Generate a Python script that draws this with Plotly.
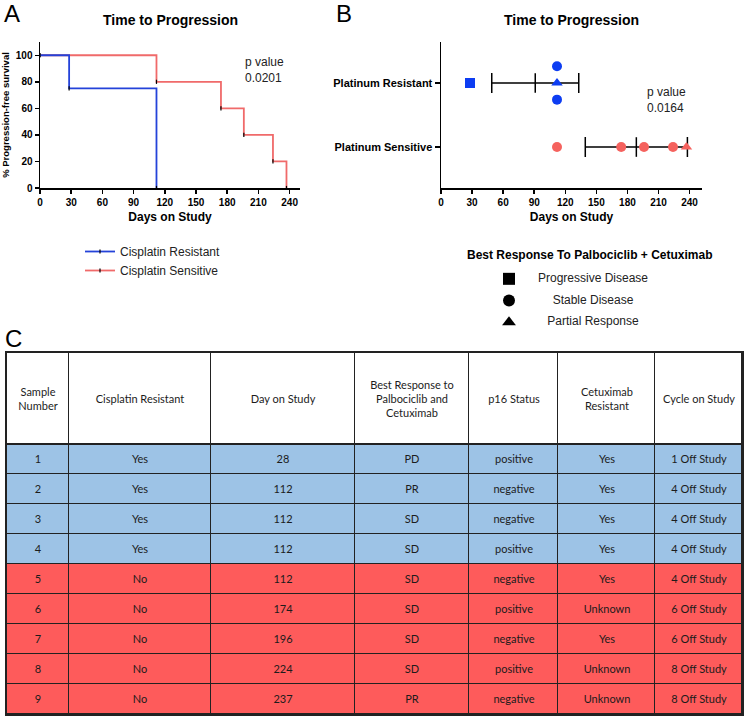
import plotly.graph_objects as go

W, H = 747, 716

# ---------------- data ----------------
km_resistant_days = [0, 28, 112]
km_resistant_pct = [100, 75, 0]
km_sensitive_days = [0, 112, 174, 196, 224, 237]
km_sensitive_pct = [100, 80, 60, 40, 20, 0]

groups_b = ["Platinum Resistant", "Platinum Sensitive"]
error_mean = [91, 188.6]
error_sd = [42, 49.3]

sample_number = ["1", "2", "3", "4", "5", "6", "7", "8", "9"]
cisplatin_resistant = ["Yes", "Yes", "Yes", "Yes", "No", "No", "No", "No", "No"]
day_on_study = [28, 112, 112, 112, 112, 174, 196, 224, 237]
best_response = ["PD", "PR", "SD", "SD", "SD", "SD", "SD", "SD", "PR"]
p16_status = ["positive", "negative", "negative", "positive", "negative",
              "positive", "negative", "positive", "negative"]
cetuximab_resistant = ["Yes", "Yes", "Yes", "Yes", "Yes", "Unknown", "Yes",
                       "Unknown", "Unknown"]
cycle_on_study = ["1 Off Study", "4 Off Study", "4 Off Study", "4 Off Study",
                  "4 Off Study", "6 Off Study", "6 Off Study", "8 Off Study",
                  "8 Off Study"]

table_headers = ["Sample<br>Number", "Cisplatin Resistant", "Day on Study",
                 "Best Response to<br>Palbociclib and<br>Cetuximab",
                 "p16 Status", "Cetuximab<br>Resistant", "Cycle on Study"]

response_names = ["Progressive Disease", "Stable Disease", "Partial Response"]
response_codes = ["PD", "SD", "PR"]

# ---------------- styles ----------------
FONT = "Liberation Sans, Arial, sans-serif"
TFONT = "Lato, Open Sans, sans-serif"
BLUE_KM = "#2443d9"
RED_KM = "#f06a6a"
BLUE_PT = "#0d3df2"
RED_PT = "#f5625e"
ROW_BLUE = "#9dc3e6"
ROW_RED = "#fe5b5b"
symbol_map = {"PD": "square", "SD": "circle", "PR": "triangle-up"}


def px_x(a, b):
    return [a / W, b / W]


def px_y(top, bottom):
    return [1 - bottom / H, 1 - top / H]


fig = go.Figure()

# ---------------- Panel A: Kaplan-Meier ----------------
tick_marker = dict(symbol="line-ns", size=3, color="black",
                   line=dict(width=1.2, color="black"))
fig.add_trace(go.Scatter(
    x=km_sensitive_days, y=km_sensitive_pct, mode="lines+markers",
    line=dict(color=RED_KM, width=1.8, shape="hv"), marker=tick_marker,
    name="Cisplatin Sensitive", legendrank=2, xaxis="x", yaxis="y",
    hoverinfo="skip"))
fig.add_trace(go.Scatter(
    x=km_resistant_days, y=km_resistant_pct, mode="lines+markers",
    line=dict(color=BLUE_KM, width=1.8, shape="hv"), marker=tick_marker,
    name="Cisplatin Resistant", legendrank=1, xaxis="x", yaxis="y",
    hoverinfo="skip"))

# ---------------- Panel B: scatter with mean +/- SD ----------------
group_y = {g: len(groups_b) - 1 - i for i, g in enumerate(groups_b)}
fig.add_trace(go.Scatter(
    x=error_mean, y=[group_y[g] for g in groups_b], mode="markers",
    marker=dict(symbol="line-ns", size=14, color="black",
                line=dict(width=1.5, color="black")),
    error_x=dict(type="data", array=error_sd, color="black", thickness=1.5,
                 width=10),
    showlegend=False, xaxis="x2", yaxis="y2", hoverinfo="skip"))

JITTER = 0.26
for g, flag, col in [(groups_b[0], "Yes", BLUE_PT), (groups_b[1], "No", RED_PT)]:
    xs, ys, syms = [], [], []
    seen = {}
    for d, r, c in zip(day_on_study, best_response, cisplatin_resistant):
        if c != flag:
            continue
        k = seen.get(d, 0)
        seen[d] = k + 1
        off = [0, JITTER, -JITTER][k % 3]
        xs.append(d)
        ys.append(group_y[g] + off)
        syms.append(symbol_map[r])
    fig.add_trace(go.Scatter(
        x=xs, y=ys, mode="markers",
        marker=dict(symbol=syms, size=10, color=col, line=dict(width=0)),
        showlegend=False, xaxis="x2", yaxis="y2", hoverinfo="skip"))

# ---------------- Panel B legend (hidden axes) ----------------
fig.add_trace(go.Scatter(
    x=[0] * 3, y=list(range(3)), mode="markers",
    marker=dict(symbol=[symbol_map[c] for c in response_codes], size=12,
                color="black"),
    cliponaxis=False,
    showlegend=False, xaxis="x4", yaxis="y4", hoverinfo="skip"))
fig.add_trace(go.Scatter(
    x=[84] * 3, y=list(range(3)), mode="text", text=response_names,
    textposition="middle center", cliponaxis=False,
    textfont=dict(family=FONT, size=12, color="#222"),
    showlegend=False, xaxis="x4", yaxis="y4", hoverinfo="skip"))

# ---------------- Panel C: table as heatmap ----------------
col_widths = [62, 142, 144, 114, 89, 97, 87]
x_edges = [0]
for w in col_widths:
    x_edges.append(x_edges[-1] + w)
header_h, row_h = 91, 30
y_edges = [0, header_h]
for _ in sample_number:
    y_edges.append(y_edges[-1] + row_h)

columns = [sample_number, cisplatin_resistant, [str(d) for d in day_on_study],
           best_response, p16_status, cetuximab_resistant, cycle_on_study]
z = [[0] * len(columns)]
text = [table_headers]
for i in range(len(sample_number)):
    z.append([1 if cisplatin_resistant[i] == "Yes" else 2] * len(columns))
    text.append([col[i] for col in columns])

fig.add_trace(go.Heatmap(
    x=x_edges, y=y_edges, z=z, text=text, texttemplate="%{text}",
    textfont=dict(family=TFONT, size=11, color="#1c1c1c"),
    colorscale=[[0, "white"], [0.5, ROW_BLUE], [1, ROW_RED]],
    zmin=0, zmax=2, showscale=False, xgap=1, ygap=1,
    xaxis="x3", yaxis="y3", hoverinfo="skip"))

# ---------------- layout ----------------
axis_common = dict(showline=True, linecolor="black", linewidth=1.5,
                   ticks="outside", ticklen=4, tickwidth=1.5, tickcolor="black",
                   showgrid=False, zeroline=False, automargin=False,
                   tickfont=dict(family=FONT, size=10, color="black",
                                 weight="bold"))
x_ticks = list(range(0, 241, 30))

fig.update_layout(
    width=W, height=H,
    margin=dict(l=0, r=0, t=0, b=0, pad=0, autoexpand=False),
    paper_bgcolor="white", plot_bgcolor="white",
    font=dict(family=FONT, color="black"),
    xaxis=dict(domain=px_x(40, 300), range=[0, 250], tickvals=x_ticks,
               anchor="y",
               title=dict(text="Days on Study", standoff=6,
                          font=dict(family=FONT, size=12, weight="bold")),
               **axis_common),
    yaxis=dict(domain=px_y(42, 188), range=[0, 110],
               tickvals=[0, 20, 40, 60, 80, 100], anchor="x",
               title=dict(text="% Progression-free survival", standoff=4,
                          font=dict(family=FONT, size=9.5, weight="bold")),
               **axis_common),
    xaxis2=dict(domain=px_x(441, 702), range=[0, 252], tickvals=x_ticks,
                anchor="y2",
                title=dict(text="Days on Study", standoff=6,
                           font=dict(family=FONT, size=12, weight="bold")),
                **axis_common),
    yaxis2=dict(domain=px_y(42, 188), range=[-0.64, 1.64],
                tickvals=[group_y[g] for g in groups_b], ticktext=groups_b,
                anchor="x2",
                **{**axis_common, "ticklen": 5,
                   "tickfont": dict(family=FONT, size=11, color="black",
                                    weight="bold")}),
    xaxis3=dict(domain=px_x(7, 742), range=[0, x_edges[-1]], anchor="y3",
                showline=True, mirror=True, linecolor="#222", linewidth=2,
                showticklabels=False, ticks="", showgrid=False,
                zeroline=False, automargin=False),
    yaxis3=dict(domain=px_y(353, 714), range=[y_edges[-1], 0], anchor="x3",
                showline=True, mirror=True, linecolor="#222", linewidth=2,
                showticklabels=False, ticks="", showgrid=False,
                zeroline=False, automargin=False),
    xaxis4=dict(domain=px_x(489, 709), range=[-20, 200], visible=False,
                anchor="y4"),
    yaxis4=dict(domain=px_y(268, 333), range=[2.5, -0.5], visible=False,
                anchor="x4"),
    showlegend=True,
    legend=dict(x=80 / W, y=1 - 237 / H, xanchor="left", yanchor="top",
                font=dict(family=FONT, size=12, color="#222"),
                bgcolor="rgba(0,0,0,0)", itemwidth=30, tracegroupgap=0,
                traceorder="normal"),
    shapes=[dict(type="rect", xref="x3 domain", yref="y3 domain", x0=0, x1=1,
                 y0=0, y1=1, fillcolor="#222", line_width=0, layer="below"),
            dict(type="line", xref="x3 domain", yref="y3", x0=0, x1=1,
                 y0=header_h, y1=header_h, line=dict(color="#222", width=2))],
)

ann = []
for label, x, y in [("A", 12, 13), ("B", 344, 13), ("C", 13, 338)]:
    ann.append(dict(text=label, x=x / W, y=1 - y / H, xref="paper",
                    yref="paper", showarrow=False, xanchor="center",
                    yanchor="middle", font=dict(family=FONT, size=24,
                                                color="black")))
for x in [170, 571]:
    ann.append(dict(text="Time to Progression", x=x / W, y=1 - 20 / H,
                    xref="paper", yref="paper", showarrow=False,
                    xanchor="center", yanchor="middle",
                    font=dict(family=FONT, size=14, weight="bold",
                              color="black")))
for txt, x, y in [("p value<br>0.0201", 243, 70), ("p value<br>0.0164", 645, 100)]:
    ann.append(dict(text=txt, x=x / W, y=1 - y / H, xref="paper",
                    yref="paper", showarrow=False, xanchor="left",
                    yanchor="middle", align="left",
                    font=dict(family=FONT, size=12, color="#222")))
ann.append(dict(text="Best Response To Palbociclib + Cetuximab", x=590 / W,
                y=1 - 255 / H, xref="paper", yref="paper", showarrow=False,
                xanchor="center", yanchor="middle",
                font=dict(family=FONT, size=12, weight="bold", color="black")))
fig.update_layout(annotations=ann)

fig.write_html(
    "out.html",
    config={"displayModeBar": False, "staticPlot": True},
    post_script="document.body.style.margin='0px';"
                "document.body.style.padding='0px';"
                "document.documentElement.style.overflow='hidden';")
